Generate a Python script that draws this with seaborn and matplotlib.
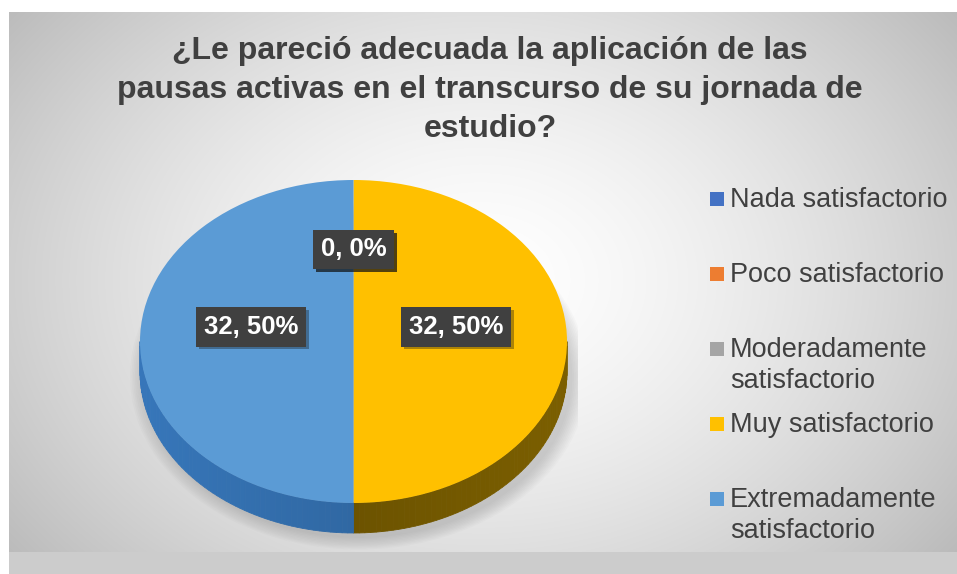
import numpy as np
import matplotlib.pyplot as plt
import matplotlib.patheffects as pe
from matplotlib.patches import Polygon, Rectangle, Ellipse
import matplotlib.colors as mcolors
import seaborn as sns

# data
categories = ["Nada satisfactorio", "Poco satisfactorio", "Moderadamente satisfactorio",
              "Muy satisfactorio", "Extremadamente satisfactorio"]
legend_labels = ["Nada satisfactorio", "Poco satisfactorio", "Moderadamente\nsatisfactorio",
                 "Muy satisfactorio", "Extremadamente\nsatisfactorio"]
counts = [0, 0, 0, 32, 32]
title_lines = ["¿Le pareció adecuada la aplicación de las",
               "pausas activas en el transcurso de su jornada de",
               "estudio?"]

# excel office palette + darker rim colours for the 3d side
colors = ["#4472C4", "#ED7D31", "#A5A5A5", "#FFC000", "#5B9BD5"]
side_colors = ["#2c4f8c", "#a8561f", "#6e6e6e", "#6c5300", "#3068a3"]

sns.set_theme(style="white")
plt.rcParams['font.family'] = ['Liberation Sans', 'DejaVu Sans']

W, H = 957, 574
fig = plt.figure(figsize=(W / 100, H / 100), dpi=100)

# background with radial gradient, in pixel coordinates
bg = fig.add_axes([0, 0, 1, 1], zorder=0)
bg.set_xlim(0, W)
bg.set_ylim(H, 0)
bg.axis('off')
yy, xx = np.mgrid[0:H, 0:W]
r = np.sqrt(((xx - 480) / 560.0) ** 2 + ((yy - 280) / 420.0) ** 2)
g = np.clip(255 - 62 * r ** 1.5, 185, 255) / 255.0
img = np.dstack([g, g, g])
img[552:, :, :] = 0.80
img[:12, :, :] = 1.0
img[:, :9, :] = 1.0
bg.imshow(img, extent=(0, W, H, 0), aspect='auto', interpolation='bilinear')

# title
for i, line in enumerate(title_lines):
    bg.text(490, 59 + 39 * i, line, ha='center', va='baseline', fontsize=23,
            fontweight='bold', color='#404040')

# legend (one text per line so the marker sits next to the first line)
for i, (lab, col) in enumerate(zip(legend_labels, colors)):
    y0 = 207 + 75 * i
    bg.add_patch(Rectangle((710, y0 - 15), 14, 14, facecolor=col, edgecolor='none'))
    for j, part in enumerate(lab.split("\n")):
        bg.text(730, y0 + 31 * j, part, ha='left', va='baseline', fontsize=19.5,
                color='#404040')

# pie axes placed so the top face is an ellipse
cx, cy, rx, ry, depth_px = 353.5, 341.5, 213.5, 161.5, 30
xlim = (-1.05, 1.05)
ylim = (-1.35, 1.05)
left = (cx + xlim[0] * rx) / W
width = (xlim[1] - xlim[0]) * rx / W
bottom = (H - (cy - ylim[0] * ry)) / H
height = (ylim[1] - ylim[0]) * ry / H
ax = fig.add_axes([left, bottom, width, height], zorder=1)
ax.patch.set_alpha(0)

wedges, _ = ax.pie(counts, colors=colors, startangle=90, counterclock=False,
                   radius=1, wedgeprops=dict(linewidth=0))
for w in wedges:
    w.set_zorder(5)
ax.set_aspect('auto')
ax.set_xlim(xlim)
ax.set_ylim(ylim)
d = depth_px / ry

# soft shadow under the pie
for k in range(10):
    s = 1.0 + 0.008 * k
    ax.add_patch(Ellipse((0.025, -d - 0.03), 2 * s, 2 * s, facecolor='#707070',
                         edgecolor='none', alpha=0.03, zorder=1))

# 3d rim on the front half
for w, sc in zip(wedges, side_colors):
    base = np.array(mcolors.to_rgb(sc))
    for k in (-1, 0, 1):
        a = max(w.theta1, -180 + 360 * k)
        b = min(w.theta2, 360 * k)
        if b <= a:
            continue
        angs = np.radians(np.linspace(a, b, 60))
        for u, v in zip(angs[:-1], angs[1:]):
            f = 1 + 0.14 * abs(np.cos((u + v) / 2))
            c = np.clip(base * f, 0, 1)
            poly = Polygon([(np.cos(u), np.sin(u)), (np.cos(v), np.sin(v)),
                            (np.cos(v), np.sin(v) - d), (np.cos(u), np.sin(u) - d)],
                           closed=True, facecolor=c, edgecolor=c, linewidth=0.6, zorder=3)
            ax.add_patch(poly)

# data labels
total = sum(counts)
for w, c in zip(wedges, counts):
    mid = np.radians((w.theta1 + w.theta2) / 2)
    x = 0.48 * np.cos(mid)
    y = 0.48 * np.sin(mid) + 0.09
    t = ax.text(x, y, f"{c}, {c / total * 100:.0f}%", ha='center', va='center',
                fontsize=18.5, fontweight='bold', color='white', zorder=10,
                bbox=dict(boxstyle='square,pad=0.3', facecolor='#404040', edgecolor='none'))
    t.get_bbox_patch().set_path_effects([pe.SimplePatchShadow(offset=(2, -2), alpha=0.35),
                                         pe.Normal()])

fig.savefig('out.png', dpi=100)
